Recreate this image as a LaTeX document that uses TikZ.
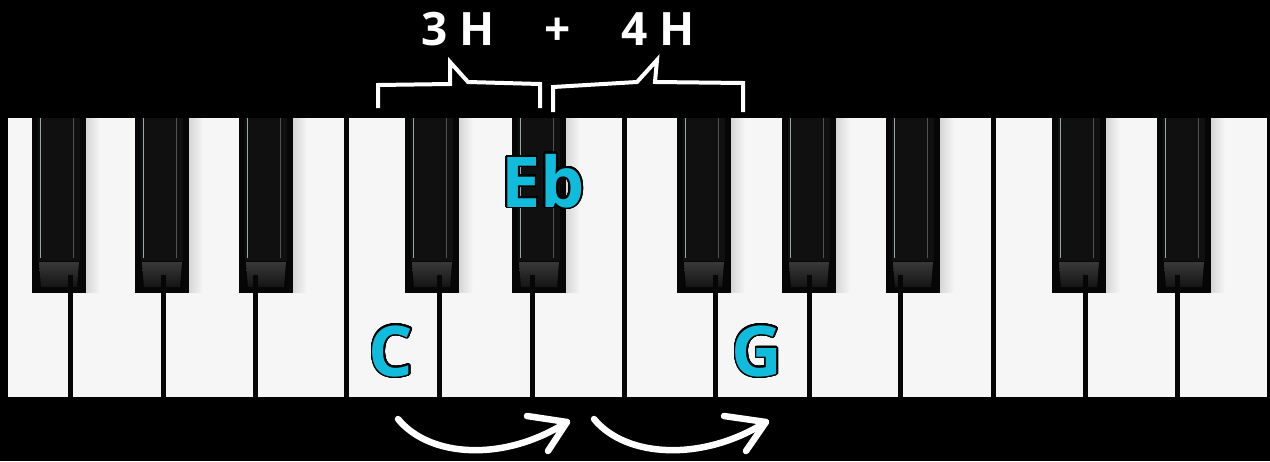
\documentclass[tikz,border=0pt]{standalone}
\usepackage{fontspec}
\setmainfont{Open Sans}
\usepackage{contour}
\contourlength{1.6pt}
\contournumber{32}
\definecolor{notecyan}{RGB}{16,187,219}
\definecolor{ivory}{RGB}{246,246,246}
\definecolor{ebony}{RGB}{6,6,6}
\definecolor{ebonybody}{RGB}{16,16,16}
\definecolor{gloss}{RGB}{150,165,172}
\tikzset{
  notelabel/.style={anchor=base, inner sep=0pt, font=\fontsize{70}{70}\selectfont\bfseries},
  countlabel/.style={anchor=base, inner sep=0pt, text=white, font=\fontsize{46}{46}\selectfont\bfseries},
  bracestroke/.style={draw=white, line width=4pt, line join=miter},
  arrowstroke/.style={draw=white, line width=6.5pt, line cap=round, line join=round},
}
\begin{document}
\begin{tikzpicture}[x=1pt,y=-1pt]
% background and frame
\fill[black] (0,0) rectangle (1270,461);
\useasboundingbox (0,0) rectangle (1270,461);

% white keys
\fill[ivory] (8,118) rectangle (1267,397);

% soft shadows cast by the black keys
\foreach \bx in {32,135,239,405,512,677,782,886,1052,1157}{
  \shade[left color=black!16, right color=ivory] (\bx+54,118) rectangle (\bx+68,292);
}

% gaps between white keys
\foreach \d in {70,163,255,346,439,532,624,715,809,900,993,1085,1177}{
  \fill[ebony] (\d-2.5,118) rectangle (\d+2.5,397);
}

% black keys
\foreach \bx/\d in {32/70,135/163,239/255,405/439,512/532,677/715,782/809,886/900,1052/1085,1157/1177}{
  \fill[ebony] (\bx,118) rectangle (\bx+54,293);
  \fill[ebonybody] (\bx+6,118) rectangle (\bx+48,261);
  \draw[gloss, line width=1pt] (\bx+8.5,118) -- (\bx+8.5,258);
  \draw[gloss!50!black, line width=0.6pt] (\bx+41,118) -- (\bx+41,258);
  \shade[top color=black!78, bottom color=black!92]
    (\bx+7,262) -- (\bx+47,262) -- (\bx+45,287) -- (\bx+9,287) -- cycle;
  \fill[ebony] (\d-2.5,275) rectangle (\d+2.5,293);
}

% note labels
\node[notelabel] (noteC)  at (391,376) {\contour{black}{\textcolor{notecyan}{C}}};
\node[notelabel] (noteEb) at (543,207) {\contour{black}{\textcolor{notecyan}{Eb}}};
\node[notelabel] (noteG)  at (757,376) {\contour{black}{\textcolor{notecyan}{G}}};

% interval counts
\node[countlabel] (three) at (458,45) {3 H};
\node[countlabel] (plus)  at (558,45) {+};
\node[countlabel] (four)  at (658,45) {4 H};

% braces over the keys
\draw[bracestroke] (378,108) -- (378,85) -- (450,84) -- (450,62) -- (468,82) -- (540,84) -- (540,108);
\draw[bracestroke] (553,112) -- (553,87) -- (637,82) -- (657,60) -- (655,82) -- (743,83) -- (743,112);

% step arrows under the keys
\coordinate (a1s) at (398,419);
\coordinate (a1t) at (567,422);
\coordinate (a1u) at (527,416);
\coordinate (a1l) at (548,451);
\coordinate (a2s) at (594,419);
\coordinate (a2t) at (766,422);
\coordinate (a2u) at (724,416);
\coordinate (a2l) at (746,451);
\draw[arrowstroke] (a1s) .. controls (430,458) and (505,462) .. (a1t);
\draw[arrowstroke] (a1u) -- (a1t) -- (a1l);
\draw[arrowstroke] (a2s) .. controls (626,458) and (703,462) .. (a2t);
\draw[arrowstroke] (a2u) -- (a2t) -- (a2l);
\end{tikzpicture}
\end{document}
